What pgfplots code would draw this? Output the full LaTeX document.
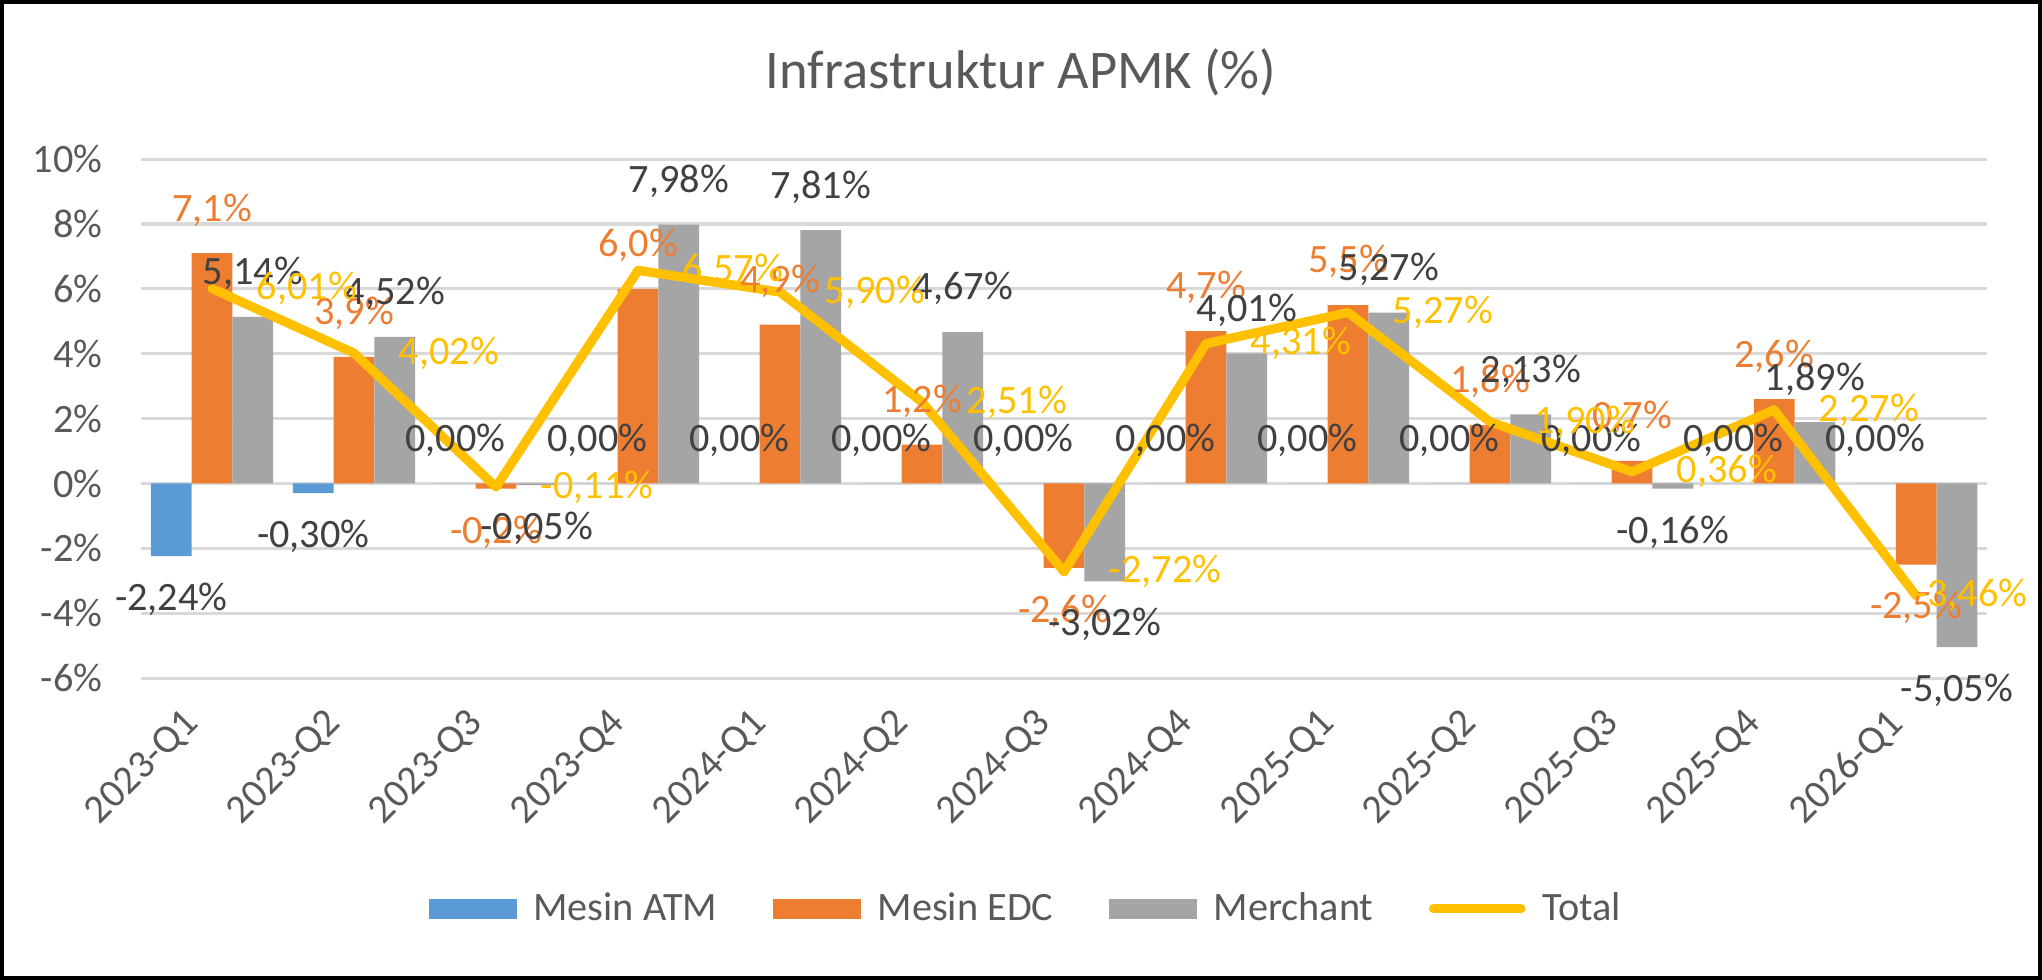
\documentclass[border=0pt]{standalone}
\usepackage{pgfplots}
\usepackage{pgfplotstable}
\pgfplotsset{compat=1.18}
\usepackage{fontspec}
\setmainfont{Carlito}
\definecolor{atm}{HTML}{5B9BD5}
\definecolor{edc}{HTML}{ED7D31}
\definecolor{mer}{HTML}{A5A5A5}
\definecolor{tot}{HTML}{FFC000}
\definecolor{lab}{HTML}{404040}
\definecolor{axt}{HTML}{595959}
\definecolor{grd}{HTML}{D9D9D9}
\pgfplotstableread{
x atm edc mer tot tsh
0 -2.24 7.1 5.14 6.01 14.5
1 -0.30 3.9 4.52 4.02 14.5
2 0 -0.16 -0.05 -0.11 14.5
3 0 6.0 7.98 6.57 14.5
4 0 4.9 7.81 5.90 14.5
5 0 1.2 4.67 2.51 14.5
6 0 -2.6 -3.02 -2.72 14.5
7 0 4.7 4.01 4.31 14.5
8 0 5.5 5.27 5.27 14.5
9 0 1.8 2.13 1.90 14.5
10 0 0.7 -0.16 0.36 14.5
11 0 2.6 1.89 2.27 14.5
12 0 -2.5 -5.05 -3.46 -2
}\datatable
\newcommand{\lfont}{\fontsize{14.5pt}{17pt}\selectfont}
\begin{document}
\begin{tikzpicture}
\path[use as bounding box] (0,0) rectangle (735.12pt,352.8pt);
\begin{axis}[
  at={(50.76pt,108.7pt)}, anchor=south west,
  width=664.6pt, height=186.8pt, scale only axis,
  xmin=-0.5, xmax=12.5, ymin=-6, ymax=10,
  enlargelimits=false,
  ytick={-6,-4,...,10},
  yticklabel={\pgfmathprintnumber{\tick}\%},
  /pgf/number format/assume math mode=true,
  xtick={0,...,12},
  xticklabels={2023-Q1,2023-Q2,2023-Q3,2023-Q4,2024-Q1,2024-Q2,2024-Q3,2024-Q4,2025-Q1,2025-Q2,2025-Q3,2025-Q4,2026-Q1},
  ymajorgrids,
  grid style={draw=grd, line width=1.1pt},
  axis line style={draw=none},
  tick style={draw=none},
  major tick length=0pt,
  tick label style={font=\lfont, text=axt},
  yticklabel style={inner sep=0pt, xshift=-13.7pt},
  xticklabel style={inner sep=0pt, xshift=-11pt, yshift=-10pt, rotate=45, anchor=north east},
  legend columns=4,
  legend style={at={(0.4803,-0.4449)}, anchor=center, draw=none, fill=none,
    font=\lfont, text=axt,
    /tikz/every odd column/.append style={column sep=4pt},
    /tikz/every even column/.append style={column sep=18pt}},
  every node near coord/.append style={font=\lfont, inner xsep=0pt, inner ysep=9.5pt},
]
\addplot[ybar, bar width=0.287, bar shift=-0.287, fill=atm, draw=none,
  nodes near coords={\pgfmathprintnumber[fixed,fixed zerofill,precision=2,use comma]{\pgfplotspointmeta}\%},
  every node near coord/.append style={text=lab, xshift=-14.67pt},
  legend image code/.code={\fill[atm] (0pt,-3.5pt) rectangle (31.7pt,3.5pt);}]
  table[x=x,y=atm]{\datatable};
\addlegendentry{Mesin ATM}
\addplot[ybar, bar width=0.287, bar shift=0, fill=edc, draw=none,
  nodes near coords={\pgfmathprintnumber[fixed,fixed zerofill,precision=1,use comma]{\pgfplotspointmeta}\%},
  every node near coord/.append style={text=edc},
  legend image code/.code={\fill[edc] (0pt,-3.5pt) rectangle (31.7pt,3.5pt);}]
  table[x=x,y=edc]{\datatable};
\addlegendentry{Mesin EDC}
\addplot[ybar, bar width=0.287, bar shift=0.287, fill=mer, draw=none,
  nodes near coords={\pgfmathprintnumber[fixed,fixed zerofill,precision=2,use comma]{\pgfplotspointmeta}\%},
  every node near coord/.append style={text=lab, xshift=14.67pt},
  legend image code/.code={\fill[mer] (0pt,-3.5pt) rectangle (31.7pt,3.5pt);}]
  table[x=x,y=mer]{\datatable};
\addlegendentry{Merchant}
\addplot[draw=tot, line width=3.3pt, line join=round, line cap=round, mark=none,
  visualization depends on={\thisrow{tsh} \as \tsh},
  nodes near coords={\pgfmathprintnumber[fixed,fixed zerofill,precision=2,use comma]{\pgfplotspointmeta}\%},
  nodes near coords align={anchor=west},
  every node near coord/.append style={text=tot, inner sep=0pt, xshift=\tsh pt},
  legend image code/.code={\draw[tot, line width=3.3pt, line cap=round] (1.5pt,0pt) -- (33pt,0pt);}]
  table[x=x,y=tot]{\datatable};
\addlegendentry{Total}
\end{axis}
\node[font=\fontsize{19.6pt}{23pt}\selectfont, text=axt] at (367.6pt,326.9pt) {Infrastruktur APMK (\%)};
\draw[line width=1.5pt] (0.75pt,0.75pt) rectangle (734.37pt,352.05pt);
\end{tikzpicture}
\end{document}
